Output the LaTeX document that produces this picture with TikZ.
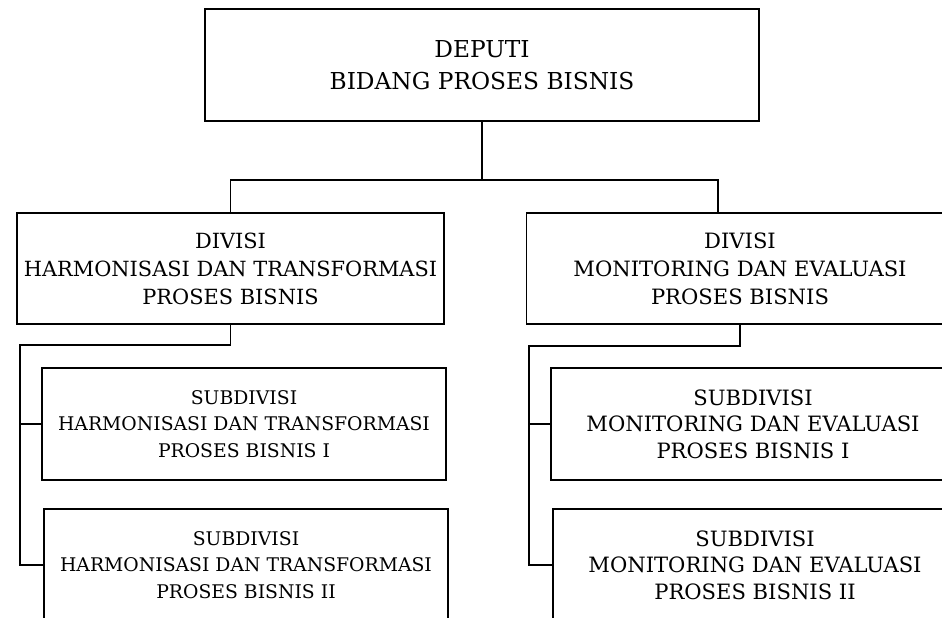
\documentclass[tikz,border=0pt]{standalone}
\usepackage{fontspec}
\setmainfont{DejaVu Serif}
\usepackage{tikz}
\usetikzlibrary{positioning}

\begin{document}
\begin{tikzpicture}[
        x=1pt, y=-1pt,
        box/.style={draw, line width=1.4pt, align=center, inner sep=0pt},
        topbox/.style={box, minimum width=554pt, minimum height=112pt, font=\fontsize{23.3}{32}\selectfont},
        divbox/.style={box, minimum width=427pt, minimum height=111pt, font=\fontsize{20.9}{28}\selectfont},
        divboxR/.style={divbox, font=\fontsize{21.1}{28}\selectfont},
        subbox/.style={box, minimum width=404pt, minimum height=112pt, font=\fontsize{18.8}{26.5}\selectfont},
        subboxR/.style={subbox, font=\fontsize{21.1}{26.5}\selectfont},
        link/.style={line width=1.4pt}
      ]
      \useasboundingbox (0,0) rectangle (942,618);
      \clip (0,0) rectangle (942,618);
      \node[topbox] (deputi) at (482,65) {DEPUTI\\BIDANG PROSES BISNIS};
      \node[divbox] (divHarm) at (230.5,268.5) {DIVISI\\HARMONISASI DAN TRANSFORMASI\\PROSES BISNIS};
      \node[divboxR] (divMon) at (740,268.5) {DIVISI\\MONITORING DAN EVALUASI\\PROSES BISNIS};
      \node[subbox] (subHarmI) at (244,424) {SUBDIVISI\\HARMONISASI DAN TRANSFORMASI\\PROSES BISNIS I};
      \node[subbox] (subHarmII) at (246,565) {SUBDIVISI\\HARMONISASI DAN TRANSFORMASI\\PROSES BISNIS II};
      \node[subboxR] (subMonI) at (753,424) {SUBDIVISI\\MONITORING DAN EVALUASI\\PROSES BISNIS I};
      \node[subboxR] (subMonII) at (755,565) {SUBDIVISI\\MONITORING DAN EVALUASI\\PROSES BISNIS II};
      % connectors
      \coordinate (busR) at (718,180);
      \coordinate (spineL) at (20,345);
      \coordinate (spineR) at (529,346);
      \draw[link] (deputi.south) -- (deputi.south |- busR);
      \draw[link] (divHarm.north) |- (busR) -- (busR |- divMon.north);
      \draw[link] (divHarm.south) |- (spineL) |- (subHarmII.west);
      \draw[link] (spineL |- subHarmI.west) -- (subHarmI.west);
      \draw[link] (divMon.south) |- (spineR) |- (subMonII.west);
      \draw[link] (spineR |- subMonI.west) -- (subMonI.west);
    \end{tikzpicture}
\end{document}
